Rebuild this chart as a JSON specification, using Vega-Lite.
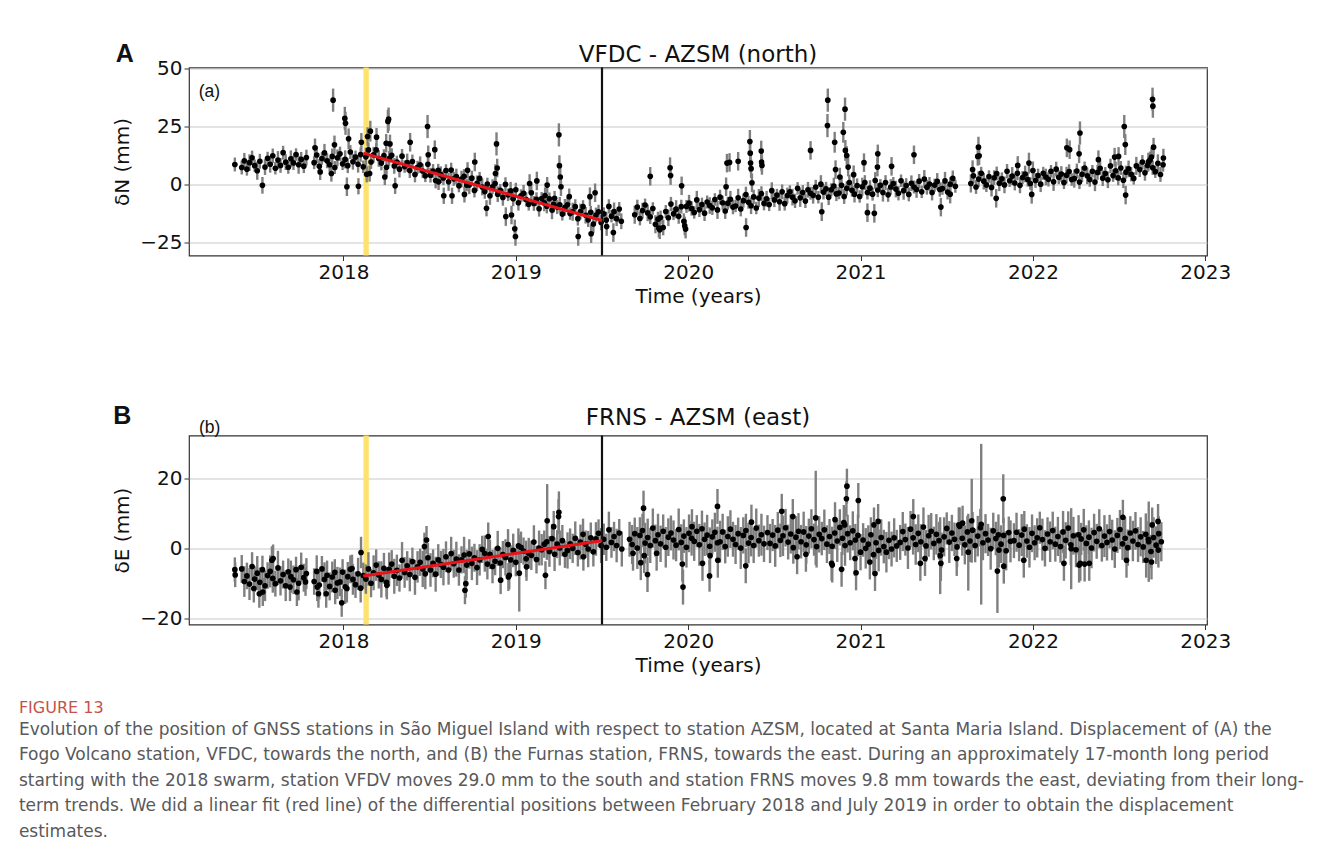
{
"$schema":"https://vega.github.io/schema/vega-lite/v6.json",
"background":"white",
"padding":{"left":18,"top":40.5,"right":0,"bottom":0},
"datasets":{
"a":[
{"t":2017.37,"v":8.5,"e":3},{"t":2017.41,"v":7.2,"e":3},{"t":2017.425,"v":10.1,"e":3.4},{"t":2017.44,"v":6.5,"e":2.8},{"t":2017.455,"v":9.3,"e":3.6},{"t":2017.47,"v":11.4,"e":3.1},{"t":2017.485,"v":8,"e":2.7},{"t":2017.5,"v":5.8,"e":3.9},{"t":2017.515,"v":9.9,"e":3.2},{"t":2017.53,"v":-0.5,"e":3.6},{"t":2017.545,"v":7.4,"e":3.4},{"t":2017.56,"v":11.2,"e":2.8},{"t":2017.575,"v":8.6,"e":3.6},{"t":2017.59,"v":12.3,"e":3.1},{"t":2017.605,"v":6.9,"e":2.7},{"t":2017.62,"v":10.4,"e":3.9},{"t":2017.635,"v":8.1,"e":3.2},{"t":2017.65,"v":13.6,"e":3},{"t":2017.665,"v":9.5,"e":3.4},{"t":2017.68,"v":7.3,"e":2.8},{"t":2017.695,"v":11,"e":3.6},{"t":2017.71,"v":9.2,"e":3.1},{"t":2017.725,"v":12.8,"e":2.7},{"t":2017.74,"v":8.4,"e":3.9},{"t":2017.755,"v":10.7,"e":3.2},{"t":2017.77,"v":7.8,"e":3},{"t":2017.785,"v":11.5,"e":3.4},
{"t":2017.83,"v":9.3,"e":2.8},{"t":2017.845,"v":12.6,"e":3.6},{"t":2017.86,"v":7.7,"e":3.1},{"t":2017.875,"v":11.1,"e":2.7},{"t":2017.89,"v":13.5,"e":3.9},{"t":2017.905,"v":10.1,"e":3.2},{"t":2017.92,"v":8.4,"e":3},{"t":2017.935,"v":12,"e":3.4},{"t":2017.95,"v":7.2,"e":2.8},{"t":2017.965,"v":11.4,"e":3.6},{"t":2017.98,"v":13.1,"e":3.1},{"t":2017.995,"v":8.8,"e":2.7},{"t":2018.01,"v":10.7,"e":3.9},{"t":2018.025,"v":8,"e":3.2},{"t":2018.04,"v":13.9,"e":3},{"t":2018.055,"v":9.7,"e":3.4},{"t":2018.07,"v":11.7,"e":2.8},{"t":2018.085,"v":8.6,"e":3.6},{"t":2018.1,"v":12.8,"e":3.1},{"t":2018.115,"v":7.5,"e":2.7},
{"t":2017.835,"v":15.7,"e":4},{"t":2017.865,"v":5.3,"e":3.5},{"t":2017.93,"v":4.6,"e":3.5},{"t":2017.94,"v":36.3,"e":5},{"t":2017.948,"v":17,"e":4},{"t":2018.008,"v":28.4,"e":5},{"t":2018.012,"v":26.3,"e":5},{"t":2018.02,"v":-1.1,"e":4},{"t":2018.03,"v":19.6,"e":4.5},{"t":2018.087,"v":-0.9,"e":3.5},{"t":2018.104,"v":18.1,"e":4},
{"t":2018.13,"v":11.8,"e":3.9},{"t":2018.145,"v":14.8,"e":3.2},{"t":2018.16,"v":9.6,"e":3},{"t":2018.175,"v":12.7,"e":3.4},{"t":2018.19,"v":14.8,"e":2.8},{"t":2018.205,"v":11.1,"e":3.6},{"t":2018.22,"v":9.1,"e":3.1},{"t":2018.235,"v":12.4,"e":2.7},{"t":2018.25,"v":7.3,"e":3.9},{"t":2018.265,"v":11.1,"e":3.2},{"t":2018.28,"v":12.5,"e":3},{"t":2018.295,"v":7.9,"e":3.4},{"t":2018.31,"v":9.5,"e":2.8},{"t":2018.325,"v":6.5,"e":3.6},{"t":2018.34,"v":12.1,"e":3.1},{"t":2018.355,"v":7.6,"e":2.7},{"t":2018.37,"v":9.3,"e":3.9},{"t":2018.385,"v":5.9,"e":3.2},{"t":2018.4,"v":9.8,"e":3},{"t":2018.415,"v":4.2,"e":3.4},{"t":2018.43,"v":7.3,"e":2.8},{"t":2018.445,"v":8.4,"e":3.6},{"t":2018.46,"v":5.7,"e":3.1},{"t":2018.475,"v":3.6,"e":2.7},{"t":2018.49,"v":8.6,"e":3.9},{"t":2018.505,"v":3.9,"e":3.2},{"t":2018.52,"v":5.7,"e":3},{"t":2018.535,"v":1.6,"e":3.4},{"t":2018.55,"v":6,"e":2.8},{"t":2018.565,"v":4.1,"e":3.6},{"t":2018.58,"v":2.7,"e":3.1},{"t":2018.595,"v":5.9,"e":2.7},{"t":2018.61,"v":1,"e":3.9},{"t":2018.625,"v":6.1,"e":3.2},{"t":2018.64,"v":2.3,"e":3},{"t":2018.655,"v":3.3,"e":3.4},{"t":2018.67,"v":-0.7,"e":2.8},{"t":2018.685,"v":2.2,"e":3.6},{"t":2018.7,"v":3.4,"e":3.1},{"t":2018.715,"v":-0.4,"e":2.7},{"t":2018.73,"v":-0.4,"e":3.9},{"t":2018.745,"v":2.6,"e":3.2},{"t":2018.76,"v":-2.7,"e":3},{"t":2018.775,"v":0.4,"e":3.4},{"t":2018.79,"v":2.5,"e":2.8},{"t":2018.805,"v":-1.2,"e":3.6},{"t":2018.82,"v":-3.2,"e":3.1},{"t":2018.835,"v":0.1,"e":2.7},{"t":2018.85,"v":-5,"e":3.9},{"t":2018.865,"v":-1.1,"e":3.2},{"t":2018.88,"v":0.3,"e":3},{"t":2018.895,"v":-4.3,"e":3.4},{"t":2018.91,"v":-2.7,"e":2.8},{"t":2018.925,"v":-5.7,"e":3.6},{"t":2018.94,"v":-0.1,"e":3.1},{"t":2018.955,"v":-4.6,"e":2.7},{"t":2018.97,"v":-2.9,"e":3.9},{"t":2018.985,"v":-6.3,"e":3.2},{"t":2019,"v":-2.4,"e":3},{"t":2019.015,"v":-8,"e":3.4},{"t":2019.03,"v":-5,"e":2.8},{"t":2019.045,"v":-3.9,"e":3.6},{"t":2019.06,"v":-6.6,"e":3.1},{"t":2019.075,"v":-8.7,"e":2.7},{"t":2019.09,"v":-3.7,"e":3.9},{"t":2019.105,"v":-8.3,"e":3.2},{"t":2019.12,"v":-6.5,"e":3},{"t":2019.135,"v":-10.6,"e":3.4},{"t":2019.15,"v":-6.2,"e":2.8},{"t":2019.165,"v":-8.1,"e":3.6},{"t":2019.18,"v":-9.5,"e":3.1},{"t":2019.195,"v":-6.3,"e":2.7},{"t":2019.21,"v":-11.2,"e":3.9},{"t":2019.225,"v":-6.1,"e":3.2},{"t":2019.24,"v":-9.9,"e":3},{"t":2019.255,"v":-8.9,"e":3.4},{"t":2019.27,"v":-12.9,"e":2.8},{"t":2019.285,"v":-10,"e":3.6},{"t":2019.3,"v":-8.9,"e":3.1},{"t":2019.315,"v":-12.7,"e":2.7},{"t":2019.33,"v":-11.9,"e":3.9},{"t":2019.345,"v":-9.7,"e":3.2},{"t":2019.36,"v":-14.9,"e":3},{"t":2019.375,"v":-11.8,"e":3.4},{"t":2019.39,"v":-9.7,"e":2.8},{"t":2019.405,"v":-13.4,"e":3.6},{"t":2019.42,"v":-15.4,"e":3.1},{"t":2019.435,"v":-12.1,"e":2.7},{"t":2019.45,"v":-17.2,"e":3.9},{"t":2019.465,"v":-13.3,"e":3.2},{"t":2019.48,"v":-11.9,"e":3},{"t":2019.495,"v":-16.5,"e":3.4},{"t":2019.51,"v":-12.8,"e":2.8},{"t":2019.525,"v":-15.5,"e":3.6},{"t":2019.54,"v":-9.6,"e":3.1},{"t":2019.555,"v":-13.8,"e":2.7},{"t":2019.57,"v":-11.8,"e":3.9},{"t":2019.585,"v":-14.9,"e":3.2},{"t":2019.6,"v":-10.7,"e":3},{"t":2019.612,"v":-16,"e":3.4},
{"t":2018.135,"v":4.3,"e":3.5},{"t":2018.14,"v":20.6,"e":4},{"t":2018.152,"v":4.6,"e":3.5},{"t":2018.156,"v":22.9,"e":4.5},{"t":2018.192,"v":20.3,"e":4},{"t":2018.24,"v":3.1,"e":3.5},{"t":2018.248,"v":17.7,"e":4},{"t":2018.258,"v":27.1,"e":5},{"t":2018.262,"v":28.1,"e":5},{"t":2018.27,"v":17.4,"e":4},{"t":2018.3,"v":-0.7,"e":3.5},{"t":2018.387,"v":18.1,"e":4},{"t":2018.488,"v":24.9,"e":5},{"t":2018.492,"v":12.7,"e":4},{"t":2018.53,"v":14.9,"e":4},{"t":2018.552,"v":1,"e":3.5},{"t":2018.582,"v":-5,"e":3.5},{"t":2018.63,"v":-5,"e":3.5},{"t":2018.702,"v":-4.4,"e":3.5},{"t":2018.72,"v":6,"e":3.5},{"t":2018.762,"v":9.6,"e":4},{"t":2018.83,"v":-10.4,"e":3.5},{"t":2018.882,"v":4.6,"e":4},{"t":2018.888,"v":17.4,"e":5},{"t":2018.892,"v":7,"e":4},{"t":2018.942,"v":-14,"e":4},{"t":2018.975,"v":-13.3,"e":4},{"t":2018.994,"v":-19.3,"e":4},{"t":2018.998,"v":-22.6,"e":4},{"t":2019.08,"v":0.3,"e":4},{"t":2019.122,"v":1.4,"e":4},{"t":2019.17,"v":-4.9,"e":3.5},{"t":2019.182,"v":-0.4,"e":3.5},{"t":2019.22,"v":-8.7,"e":3.5},{"t":2019.25,"v":21.3,"e":5},{"t":2019.253,"v":8,"e":4.5},{"t":2019.258,"v":3.1,"e":4},{"t":2019.262,"v":-1.1,"e":4},{"t":2019.31,"v":-5.4,"e":3.5},{"t":2019.362,"v":-22.6,"e":4},{"t":2019.43,"v":-5.4,"e":4},{"t":2019.437,"v":-21.4,"e":4},{"t":2019.46,"v":-3.7,"e":4},{"t":2019.527,"v":-18.3,"e":4},{"t":2019.566,"v":-20.9,"e":4},
{"t":2019.69,"v":-13.2,"e":3.9},{"t":2019.705,"v":-9.9,"e":3.2},{"t":2019.72,"v":-14.8,"e":3},{"t":2019.735,"v":-11.4,"e":3.4},{"t":2019.75,"v":-9,"e":2.8},{"t":2019.765,"v":-12.4,"e":3.6},{"t":2019.78,"v":-14.1,"e":3.1},{"t":2019.795,"v":-10.5,"e":2.7},{"t":2019.81,"v":-17.3,"e":3.9},{"t":2019.825,"v":-15.1,"e":3.2},{"t":2019.84,"v":-14.4,"e":3},{"t":2019.855,"v":-18.7,"e":3.4},{"t":2019.87,"v":-11.8,"e":2.8},{"t":2019.885,"v":-14.5,"e":3.6},{"t":2019.9,"v":-8.6,"e":3.1},{"t":2019.915,"v":-12.8,"e":2.7},{"t":2019.93,"v":-10.8,"e":3.9},{"t":2019.945,"v":-13.9,"e":3.2},{"t":2019.96,"v":-9.7,"e":3},{"t":2019.975,"v":-16,"e":3.4},{"t":2019.99,"v":-9.6,"e":2.8},{"t":2020.005,"v":-8.2,"e":3.6},{"t":2020.02,"v":-10.5,"e":3.1},{"t":2020.035,"v":-12.2,"e":2.7},{"t":2020.05,"v":-6.8,"e":3.9},{"t":2020.065,"v":-11,"e":3.2},{"t":2020.08,"v":-8.8,"e":3},{"t":2020.095,"v":-12.5,"e":3.4},{"t":2020.11,"v":-7.7,"e":2.8},{"t":2020.125,"v":-9.2,"e":3.6},{"t":2020.14,"v":-10.2,"e":3.1},{"t":2020.155,"v":-6.6,"e":2.7},{"t":2020.17,"v":-11.1,"e":3.9},{"t":2020.185,"v":-5.6,"e":3.2},{"t":2020.2,"v":-8,"e":3},{"t":2020.215,"v":-11.6,"e":3.4},{"t":2020.23,"v":-8.2,"e":2.8},{"t":2020.245,"v":-6.5,"e":3.6},{"t":2020.26,"v":-9.9,"e":3.1},{"t":2020.275,"v":-9.4,"e":2.7},{"t":2020.29,"v":-5.9,"e":3.9},{"t":2020.305,"v":-10.7,"e":3.2},{"t":2020.32,"v":-7.1,"e":3},{"t":2020.335,"v":-4.5,"e":3.4},{"t":2020.35,"v":-7.8,"e":2.8},{"t":2020.365,"v":-9.3,"e":3.6},{"t":2020.38,"v":-5.5,"e":3.1},{"t":2020.395,"v":-10.3,"e":2.7},{"t":2020.41,"v":-6,"e":3.9},{"t":2020.425,"v":-4.1,"e":3.2},{"t":2020.44,"v":-8.3,"e":3},{"t":2020.455,"v":-6.3,"e":3.4},{"t":2020.47,"v":-8.8,"e":2.8},{"t":2020.485,"v":-2.8,"e":3.6},{"t":2020.5,"v":-6.8,"e":3.1},{"t":2020.515,"v":-4.7,"e":2.7},{"t":2020.53,"v":-7.6,"e":3.9},{"t":2020.545,"v":-3.3,"e":3.2},{"t":2020.56,"v":-8.4,"e":3},{"t":2020.575,"v":-4.9,"e":3.4},{"t":2020.59,"v":-3.3,"e":2.8},{"t":2020.605,"v":-5.6,"e":3.6},{"t":2020.62,"v":-7.2,"e":3.1},{"t":2020.635,"v":-1.8,"e":2.7},{"t":2020.65,"v":-5.9,"e":3.9},{"t":2020.665,"v":-3.6,"e":3.2},{"t":2020.68,"v":-7.3,"e":3},{"t":2020.695,"v":-2.4,"e":3.4},{"t":2020.71,"v":-3.9,"e":2.8},{"t":2020.725,"v":-4.8,"e":3.6},{"t":2020.74,"v":-1.2,"e":3.1},{"t":2020.755,"v":-5.6,"e":2.7},{"t":2020.77,"v":0,"e":3.9},{"t":2020.785,"v":-3.4,"e":3.2},{"t":2020.8,"v":-2,"e":3},{"t":2020.815,"v":-5.6,"e":3.4},{"t":2020.83,"v":-2.4,"e":2.8},{"t":2020.845,"v":-0.8,"e":3.6},{"t":2020.86,"v":-4.2,"e":3.1},{"t":2020.875,"v":-3.8,"e":2.7},{"t":2020.89,"v":-0.5,"e":3.9},{"t":2020.905,"v":-5.3,"e":3.2},{"t":2020.92,"v":-1.8,"e":3},{"t":2020.935,"v":0.7,"e":3.4},{"t":2020.95,"v":-2.6,"e":2.8},{"t":2020.965,"v":-4.3,"e":3.6},{"t":2020.98,"v":-0.6,"e":3.1},{"t":2020.995,"v":-5.3,"e":2.7},{"t":2021.01,"v":-1.1,"e":3.9},{"t":2021.025,"v":0.7,"e":3.2},{"t":2021.04,"v":-3.6,"e":3},{"t":2021.055,"v":-1.7,"e":3.4},{"t":2021.07,"v":-4.3,"e":2.8},{"t":2021.085,"v":1.6,"e":3.6},{"t":2021.1,"v":-2.5,"e":3.1},{"t":2021.115,"v":-0.5,"e":2.7},{"t":2021.13,"v":-3.6,"e":3.9},{"t":2021.145,"v":0.7,"e":3.2},{"t":2021.16,"v":-4.6,"e":3},{"t":2021.175,"v":-1.2,"e":3.4},{"t":2021.19,"v":0.3,"e":2.8},{"t":2021.205,"v":-2.1,"e":3.6},{"t":2021.22,"v":-3.9,"e":3.1},{"t":2021.235,"v":1.5,"e":2.7},{"t":2021.25,"v":-2.8,"e":3.9},{"t":2021.265,"v":-0.6,"e":3.2},{"t":2021.28,"v":-4.4,"e":3},{"t":2021.295,"v":0.4,"e":3.4},{"t":2021.31,"v":-1.2,"e":2.8},{"t":2021.325,"v":-2.3,"e":3.6},{"t":2021.34,"v":1.3,"e":3.1},{"t":2021.355,"v":-3.3,"e":2.7},{"t":2021.37,"v":2.2,"e":3.9},{"t":2021.385,"v":-1.3,"e":3.2},{"t":2021.4,"v":0.1,"e":3},{"t":2021.415,"v":-3.6,"e":3.4},{"t":2021.43,"v":-0.4,"e":2.8},{"t":2021.445,"v":1.2,"e":3.6},{"t":2021.46,"v":-2.3,"e":3.1},{"t":2021.475,"v":-1.9,"e":2.7},{"t":2021.49,"v":1.4,"e":3.9},{"t":2021.505,"v":-3.4,"e":3.2},{"t":2021.52,"v":0,"e":3},{"t":2021.535,"v":2.5,"e":3.4},{"t":2021.55,"v":-0.9,"e":2.8},
{"t":2019.78,"v":3.4,"e":4},{"t":2019.83,"v":-19,"e":4},{"t":2019.835,"v":-19.7,"e":4},{"t":2019.895,"v":7.1,"e":4.5},{"t":2019.898,"v":3.7,"e":4},{"t":2019.962,"v":-0.7,"e":4},{"t":2019.98,"v":-18,"e":4},{"t":2019.985,"v":-19.4,"e":4},{"t":2020.225,"v":9.1,"e":4},{"t":2020.24,"v":9.4,"e":4},{"t":2020.22,"v":-1.1,"e":4},{"t":2020.29,"v":9.9,"e":4},{"t":2020.336,"v":-18.7,"e":4},{"t":2020.358,"v":18.4,"e":5},{"t":2020.36,"v":13.4,"e":4.5},{"t":2020.362,"v":9.1,"e":4},{"t":2020.365,"v":6.7,"e":4},{"t":2020.37,"v":0.6,"e":4},{"t":2020.424,"v":14.3,"e":4.5},{"t":2020.426,"v":9.6,"e":4},{"t":2020.428,"v":8.1,"e":4},{"t":2020.71,"v":14.6,"e":4},{"t":2020.81,"v":36.3,"e":5},{"t":2020.808,"v":25.3,"e":5},{"t":2020.775,"v":-11.9,"e":4},{"t":2020.85,"v":18.1,"e":4.5},{"t":2020.855,"v":6.3,"e":4},{"t":2020.88,"v":3.1,"e":4},{"t":2020.9,"v":22.4,"e":4.5},{"t":2020.91,"v":32.4,"e":5},{"t":2020.912,"v":14.6,"e":4.5},{"t":2020.92,"v":12.4,"e":4},{"t":2020.928,"v":7.4,"e":4},{"t":2020.96,"v":4.1,"e":4},{"t":2021.02,"v":9.3,"e":4},{"t":2021.04,"v":-12.3,"e":4},{"t":2021.08,"v":-12.6,"e":4},{"t":2021.1,"v":13.1,"e":4},{"t":2021.098,"v":7.4,"e":4},{"t":2021.18,"v":7.7,"e":4},{"t":2021.31,"v":12.7,"e":4},{"t":2021.466,"v":-9.9,"e":4},{"t":2021.52,"v":-4.3,"e":4},
{"t":2021.64,"v":0.3,"e":3.9},{"t":2021.655,"v":3.6,"e":3.2},{"t":2021.67,"v":-1.2,"e":3},{"t":2021.685,"v":2.2,"e":3.4},{"t":2021.7,"v":4.7,"e":2.8},{"t":2021.715,"v":1.3,"e":3.6},{"t":2021.73,"v":-0.3,"e":3.1},{"t":2021.745,"v":3.3,"e":2.7},{"t":2021.76,"v":-1.4,"e":3.9},{"t":2021.775,"v":2.8,"e":3.2},{"t":2021.79,"v":4.6,"e":3},{"t":2021.805,"v":0.4,"e":3.4},{"t":2021.82,"v":2.3,"e":2.8},{"t":2021.835,"v":-0.3,"e":3.6},{"t":2021.85,"v":5.6,"e":3.1},{"t":2021.865,"v":1.5,"e":2.7},{"t":2021.88,"v":3.5,"e":3.9},{"t":2021.895,"v":0.5,"e":3.2},{"t":2021.91,"v":4.7,"e":3},{"t":2021.925,"v":-0.5,"e":3.4},{"t":2021.94,"v":2.9,"e":2.8},{"t":2021.955,"v":4.4,"e":3.6},{"t":2021.97,"v":2,"e":3.1},{"t":2021.985,"v":0.3,"e":2.7},{"t":2022,"v":5.9,"e":3.9},{"t":2022.015,"v":1.6,"e":3.2},{"t":2022.03,"v":3.7,"e":3},{"t":2022.045,"v":0,"e":3.4},{"t":2022.06,"v":4.7,"e":2.8},{"t":2022.075,"v":3.1,"e":3.6},{"t":2022.09,"v":2.1,"e":3.1},{"t":2022.105,"v":5.6,"e":2.7},{"t":2022.12,"v":1,"e":3.9},{"t":2022.135,"v":6.5,"e":3.2},{"t":2022.15,"v":3,"e":3},{"t":2022.165,"v":4.4,"e":3.4},{"t":2022.18,"v":0.7,"e":2.8},{"t":2022.195,"v":3.9,"e":3.6},{"t":2022.21,"v":5.5,"e":3.1},{"t":2022.225,"v":2,"e":2.7},{"t":2022.24,"v":2.4,"e":3.9},{"t":2022.255,"v":5.7,"e":3.2},{"t":2022.27,"v":0.9,"e":3},{"t":2022.285,"v":4.3,"e":3.4},{"t":2022.3,"v":7,"e":2.8},{"t":2022.315,"v":3.6,"e":3.6},{"t":2022.33,"v":2,"e":3.1},{"t":2022.345,"v":5.6,"e":2.7},{"t":2022.36,"v":0.9,"e":3.9},{"t":2022.375,"v":5.1,"e":3.2},{"t":2022.39,"v":6.9,"e":3},{"t":2022.405,"v":2.6,"e":3.4},{"t":2022.42,"v":4.6,"e":2.8},{"t":2022.435,"v":1.9,"e":3.6},{"t":2022.45,"v":7.9,"e":3.1},{"t":2022.465,"v":3.7,"e":2.7},{"t":2022.48,"v":5.8,"e":3.9},{"t":2022.495,"v":2.7,"e":3.2},{"t":2022.51,"v":7,"e":3},{"t":2022.525,"v":1.7,"e":3.4},{"t":2022.54,"v":5.2,"e":2.8},{"t":2022.555,"v":6.6,"e":3.6},{"t":2022.57,"v":4.3,"e":3.1},{"t":2022.585,"v":2.5,"e":2.7},{"t":2022.6,"v":7.9,"e":3.9},
{"t":2021.65,"v":6.3,"e":4},{"t":2021.68,"v":12,"e":4},{"t":2021.684,"v":16,"e":4.5},{"t":2021.688,"v":12.3,"e":4},{"t":2021.787,"v":-6.1,"e":4},{"t":2021.912,"v":8.1,"e":4},{"t":2021.977,"v":9.1,"e":4.5},{"t":2021.993,"v":-4.4,"e":4},{"t":2022.197,"v":15.7,"e":4},{"t":2022.213,"v":14.9,"e":4},{"t":2022.268,"v":13.1,"e":4},{"t":2022.273,"v":22.1,"e":5},{"t":2022.474,"v":11.7,"e":4},{"t":2022.497,"v":12,"e":4},{"t":2022.53,"v":24.9,"e":5},{"t":2022.536,"v":17.1,"e":4.5},{"t":2022.538,"v":-4.7,"e":4},{"t":2022.38,"v":10.6,"e":4},
{"t":2022.62,"v":6.3,"e":3.2},{"t":2022.635,"v":9.6,"e":3},{"t":2022.65,"v":4.9,"e":3.4},{"t":2022.665,"v":8.1,"e":2.8},{"t":2022.68,"v":10.5,"e":3.6},{"t":2022.695,"v":7.1,"e":3.1},{"t":2022.71,"v":5.4,"e":2.7},{"t":2022.725,"v":9,"e":3.9},{"t":2022.74,"v":4.2,"e":3.2},{"t":2022.755,"v":8.4,"e":3},
{"t":2022.694,"v":36.7,"e":5},{"t":2022.696,"v":33.7,"e":5},{"t":2022.7,"v":16,"e":4},{"t":2022.688,"v":11.7,"e":4},{"t":2022.757,"v":11.3,"e":4},{"t":2022.67,"v":9.6,"e":4}
],
"b":[
{"t":2017.37,"v":-6,"e":3.5},{"t":2017.372,"v":-7.5,"e":3.5},{"t":2017.41,"v":-5.8,"e":4},{"t":2017.425,"v":-9.4,"e":4.4},{"t":2017.44,"v":-7.8,"e":3.8},{"t":2017.455,"v":-10.1,"e":4.6},{"t":2017.47,"v":-5.1,"e":4.1},{"t":2017.485,"v":-8.7,"e":3.7},{"t":2017.5,"v":-7,"e":4.9},{"t":2017.515,"v":-9.6,"e":4.2},{"t":2017.53,"v":-6,"e":4},{"t":2017.545,"v":-10.6,"e":4.4},{"t":2017.56,"v":-7.7,"e":3.8},{"t":2017.575,"v":-6.5,"e":4.6},{"t":2017.59,"v":-8.5,"e":4.1},{"t":2017.605,"v":-10,"e":3.7},{"t":2017.62,"v":-5.5,"e":4.9},{"t":2017.635,"v":-9.2,"e":4.2},{"t":2017.65,"v":-7.4,"e":4},{"t":2017.665,"v":-10.6,"e":4.4},{"t":2017.68,"v":-6.6,"e":3.8},{"t":2017.695,"v":-8,"e":4.6},{"t":2017.71,"v":-8.9,"e":4.1},{"t":2017.725,"v":-6,"e":3.7},{"t":2017.74,"v":-9.9,"e":4.9},{"t":2017.755,"v":-5.3,"e":4.2},{"t":2017.77,"v":-8.3,"e":4},{"t":2017.785,"v":-7.1,"e":4.4},
{"t":2017.512,"v":-12.9,"e":4},{"t":2017.532,"v":-12.4,"e":4},{"t":2017.48,"v":-11.4,"e":4},{"t":2017.585,"v":-3.3,"e":4},{"t":2017.592,"v":-2.8,"e":4},{"t":2017.73,"v":-12.4,"e":4},{"t":2017.78,"v":-9.5,"e":4},{"t":2017.69,"v":-11,"e":4},
{"t":2017.83,"v":-9.4,"e":3.8},{"t":2017.845,"v":-6.5,"e":4.6},{"t":2017.86,"v":-10.4,"e":4.1},{"t":2017.875,"v":-5.8,"e":3.7},{"t":2017.89,"v":-8.8,"e":4.9},{"t":2017.905,"v":-7.6,"e":4.2},{"t":2017.92,"v":-10.8,"e":4},{"t":2017.935,"v":-8.1,"e":4.4},{"t":2017.95,"v":-6.8,"e":3.8},{"t":2017.965,"v":-9.8,"e":4.6},{"t":2017.98,"v":-9.5,"e":4.1},{"t":2017.995,"v":-6.7,"e":3.7},{"t":2018.01,"v":-10.9,"e":4.9},{"t":2018.025,"v":-8,"e":4.2},{"t":2018.04,"v":-5.9,"e":4},{"t":2018.055,"v":-8.8,"e":4.4},{"t":2018.07,"v":-10.3,"e":3.8},{"t":2018.085,"v":-7.2,"e":4.6},{"t":2018.1,"v":-11.3,"e":4.1},{"t":2018.115,"v":-7.7,"e":3.7},
{"t":2017.855,"v":-12.9,"e":4},{"t":2017.848,"v":-11,"e":4},{"t":2017.9,"v":-12.9,"e":4},{"t":2017.952,"v":-11.9,"e":4},{"t":2017.99,"v":-15.5,"e":4},{"t":2018.02,"v":-11.4,"e":4},{"t":2018.102,"v":-1.1,"e":4.5},{"t":2018.05,"v":-5.7,"e":4},
{"t":2018.13,"v":-8.7,"e":4.2},{"t":2018.145,"v":-5.8,"e":4.8},{"t":2018.16,"v":-9.9,"e":4},{"t":2018.175,"v":-6.9,"e":5},{"t":2018.19,"v":-4.7,"e":4.5},{"t":2018.205,"v":-7.5,"e":3.9},{"t":2018.22,"v":-8.8,"e":5.2},{"t":2018.235,"v":-5.6,"e":4.4},{"t":2018.25,"v":-9.6,"e":4.2},{"t":2018.265,"v":-5.9,"e":4.8},{"t":2018.28,"v":-4.4,"e":4},{"t":2018.295,"v":-7.9,"e":5},{"t":2018.31,"v":-6.2,"e":4.5},{"t":2018.325,"v":-8.4,"e":3.9},{"t":2018.34,"v":-3.3,"e":5.2},{"t":2018.355,"v":-6.8,"e":4.4},{"t":2018.37,"v":-4.9,"e":4.2},{"t":2018.385,"v":-7.4,"e":4.8},{"t":2018.4,"v":-3.7,"e":4},{"t":2018.415,"v":-8.2,"e":5},{"t":2018.43,"v":-5.2,"e":4.5},{"t":2018.445,"v":-3.9,"e":3.9},{"t":2018.46,"v":-5.8,"e":5.2},{"t":2018.475,"v":-7.2,"e":4.4},{"t":2018.49,"v":-2.6,"e":4.2},{"t":2018.505,"v":-6.1,"e":4.8},{"t":2018.52,"v":-4.2,"e":4},{"t":2018.535,"v":-7.3,"e":5},{"t":2018.55,"v":-3.2,"e":4.5},{"t":2018.565,"v":-4.5,"e":3.9},{"t":2018.58,"v":-5.3,"e":5.2},{"t":2018.595,"v":-2.3,"e":4.4},{"t":2018.61,"v":-6.1,"e":4.2},{"t":2018.625,"v":-1.4,"e":4.8},{"t":2018.64,"v":-4.3,"e":4},{"t":2018.655,"v":-3,"e":5},{"t":2018.67,"v":-6.1,"e":4.5},{"t":2018.685,"v":-3.2,"e":3.9},{"t":2018.7,"v":-1.8,"e":5.2},{"t":2018.715,"v":-4.7,"e":4.4},{"t":2018.73,"v":-1.5,"e":4.2},{"t":2018.745,"v":-4.2,"e":4.8},{"t":2018.76,"v":-2.6,"e":4},{"t":2018.775,"v":-5.4,"e":5},{"t":2018.79,"v":-3.2,"e":4.5},{"t":2018.805,"v":-0.2,"e":3.9},{"t":2018.82,"v":-1.4,"e":5.2},{"t":2018.835,"v":-4.4,"e":4.4},{"t":2018.85,"v":-1.6,"e":4.2},{"t":2018.865,"v":-5.1,"e":4.8},{"t":2018.88,"v":-3.6,"e":4},{"t":2018.895,"v":0.1,"e":5},{"t":2018.91,"v":-4.1,"e":4.5},{"t":2018.925,"v":-1.7,"e":3.9},{"t":2018.94,"v":-2.5,"e":5.2},{"t":2018.955,"v":1.2,"e":4.4},{"t":2018.97,"v":-3.2,"e":4.2},{"t":2018.985,"v":-0.5,"e":4.8},{"t":2019,"v":-3.9,"e":4},{"t":2019.015,"v":0.8,"e":5},{"t":2019.03,"v":0.4,"e":4.5},{"t":2019.045,"v":-0.7,"e":3.9},{"t":2019.06,"v":-2.9,"e":5.2},{"t":2019.075,"v":-1.3,"e":4.4},{"t":2019.09,"v":-1.9,"e":4.2},{"t":2019.105,"v":1.9,"e":4.8},{"t":2019.12,"v":-3.1,"e":4},{"t":2019.135,"v":0.2,"e":5},{"t":2019.15,"v":-0.3,"e":4.5},{"t":2019.165,"v":1.3,"e":3.9},{"t":2019.18,"v":2,"e":5.2},{"t":2019.195,"v":-0.8,"e":4.4},{"t":2019.21,"v":2.9,"e":4.2},{"t":2019.225,"v":-1.6,"e":4.8},{"t":2019.24,"v":1.3,"e":4},{"t":2019.255,"v":0.2,"e":5},{"t":2019.27,"v":2.3,"e":4.5},{"t":2019.285,"v":-1.6,"e":3.9},{"t":2019.3,"v":-0.5,"e":5.2},{"t":2019.315,"v":1.4,"e":4.4},{"t":2019.33,"v":0.1,"e":4.2},{"t":2019.345,"v":3,"e":4.8},{"t":2019.36,"v":-1.1,"e":4},{"t":2019.375,"v":1.9,"e":5},{"t":2019.39,"v":4.1,"e":4.5},{"t":2019.405,"v":1.3,"e":3.9},{"t":2019.42,"v":-0.1,"e":5.2},{"t":2019.435,"v":3.1,"e":4.4},{"t":2019.45,"v":-0.9,"e":4.2},{"t":2019.465,"v":2.8,"e":4.8},{"t":2019.48,"v":4.4,"e":4},{"t":2019.495,"v":0.9,"e":5},{"t":2019.51,"v":2.7,"e":4.5},{"t":2019.525,"v":0.4,"e":3.9},{"t":2019.54,"v":5.4,"e":5.2},{"t":2019.555,"v":1.8,"e":4.4},{"t":2019.57,"v":3.5,"e":4.2},{"t":2019.585,"v":0.9,"e":4.8},{"t":2019.6,"v":4.5,"e":4},{"t":2019.615,"v":-0.1,"e":5},
{"t":2018.705,"v":-11.9,"e":4},{"t":2018.71,"v":-10,"e":4},{"t":2018.84,"v":3.5,"e":4},{"t":2018.912,"v":-9,"e":4},{"t":2018.957,"v":-8.1,"e":4},{"t":2018.962,"v":-7.6,"e":4},{"t":2018.482,"v":2.5,"e":4},{"t":2018.47,"v":0.6,"e":4},{"t":2018.252,"v":-10.5,"e":4},{"t":2019.062,"v":-5.2,"e":4},{"t":2019.22,"v":6.3,"e":4.5},{"t":2019.25,"v":10.4,"e":6},{"t":2019.248,"v":9.2,"e":5},{"t":2019.172,"v":-7.6,"e":4},{"t":2019.392,"v":-2.3,"e":4},{"t":2019.182,"v":8,"e":10.5},{"t":2019.02,"v":-7,"e":11},
{"t":2019.66,"v":2.7,"e":5},{"t":2019.675,"v":1.2,"e":5.6},{"t":2019.69,"v":4.3,"e":4.6},{"t":2019.705,"v":0.2,"e":6},{"t":2019.72,"v":3.8,"e":5.2},{"t":2019.735,"v":5.2,"e":4.8},{"t":2019.75,"v":1.6,"e":5.8},{"t":2019.765,"v":3.2,"e":5.4},{"t":2019.78,"v":0.9,"e":5},{"t":2019.795,"v":5.9,"e":5.6},{"t":2019.81,"v":2.3,"e":4.6},{"t":2019.825,"v":4,"e":6},{"t":2019.84,"v":1.4,"e":5.2},{"t":2019.855,"v":5,"e":4.8},{"t":2019.87,"v":0.4,"e":5.8},{"t":2019.885,"v":3.3,"e":5.4},{"t":2019.9,"v":4.5,"e":5},{"t":2019.915,"v":2.5,"e":5.6},{"t":2019.93,"v":1,"e":4.6},{"t":2019.945,"v":5.5,"e":6},{"t":2019.96,"v":1.8,"e":5.2},{"t":2019.975,"v":3.6,"e":4.8},{"t":2019.99,"v":0.4,"e":5.8},{"t":2020.005,"v":4.4,"e":5.4},{"t":2020.02,"v":3,"e":5},{"t":2020.035,"v":2.1,"e":5.6},{"t":2020.05,"v":5,"e":4.6},{"t":2020.065,"v":1.1,"e":6},{"t":2020.08,"v":5.7,"e":5.2},{"t":2020.095,"v":2.7,"e":4.8},{"t":2020.11,"v":3.9,"e":5.8},{"t":2020.125,"v":0.7,"e":5.4},{"t":2020.14,"v":3.4,"e":5},{"t":2020.155,"v":4.7,"e":5.6},{"t":2020.17,"v":1.7,"e":4.6},{"t":2020.185,"v":2,"e":6},{"t":2020.2,"v":4.8,"e":5.2},{"t":2020.215,"v":0.6,"e":4.8},{"t":2020.23,"v":3.5,"e":5.8},{"t":2020.245,"v":5.6,"e":5.4},{"t":2020.26,"v":2.7,"e":5},{"t":2020.275,"v":1.2,"e":5.6},{"t":2020.29,"v":4.3,"e":4.6},{"t":2020.305,"v":0.2,"e":6},{"t":2020.32,"v":3.8,"e":5.2},{"t":2020.335,"v":5.2,"e":4.8},{"t":2020.35,"v":1.6,"e":5.8},{"t":2020.365,"v":3.2,"e":5.4},{"t":2020.38,"v":0.9,"e":5},{"t":2020.395,"v":5.9,"e":5.6},{"t":2020.41,"v":2.3,"e":4.6},{"t":2020.425,"v":4,"e":6},{"t":2020.44,"v":1.4,"e":5.2},
{"t":2019.741,"v":11.6,"e":5},{"t":2019.764,"v":-7.4,"e":5},{"t":2019.725,"v":-4,"e":5},{"t":2019.745,"v":-2,"e":5},{"t":2019.68,"v":-1.3,"e":5},{"t":2019.97,"v":-11,"e":5},{"t":2019.966,"v":-4.4,"e":5},{"t":2020.022,"v":6.3,"e":5},{"t":2020.124,"v":-7.8,"e":4.5},{"t":2020.127,"v":-2,"e":5},{"t":2020.17,"v":12.1,"e":5},{"t":2020.172,"v":-3.3,"e":5},{"t":2020.334,"v":-4.9,"e":5},{"t":2020.367,"v":7.6,"e":5},{"t":2020.083,"v":-4.2,"e":5},{"t":2019.817,"v":-1.3,"e":5},
{"t":2020.46,"v":4.6,"e":5},{"t":2020.475,"v":1.5,"e":5.6},{"t":2020.49,"v":3.9,"e":4.6},{"t":2020.505,"v":0.8,"e":6},{"t":2020.52,"v":5.3,"e":5.2},{"t":2020.535,"v":2.4,"e":4.8},{"t":2020.55,"v":3.7,"e":5.8},{"t":2020.565,"v":6,"e":5.4},{"t":2020.58,"v":1.9,"e":5},{"t":2020.595,"v":4.2,"e":5.6},{"t":2020.61,"v":0.3,"e":4.6},{"t":2020.625,"v":3.3,"e":6},{"t":2020.64,"v":5,"e":5.2},{"t":2020.655,"v":2,"e":4.8},{"t":2020.67,"v":4.8,"e":5.8},{"t":2020.685,"v":1.1,"e":5.4},{"t":2020.7,"v":3.6,"e":5},{"t":2020.715,"v":5.7,"e":5.6},{"t":2020.73,"v":2.6,"e":4.6},{"t":2020.745,"v":0.6,"e":6},{"t":2020.76,"v":4.1,"e":5.2},{"t":2020.775,"v":2.9,"e":4.8},{"t":2020.79,"v":5.4,"e":5.8},{"t":2020.805,"v":1.3,"e":5.4},{"t":2020.82,"v":3.5,"e":5},{"t":2020.835,"v":0.7,"e":5.6},{"t":2020.85,"v":4.5,"e":4.6},{"t":2020.865,"v":2.2,"e":6},{"t":2020.88,"v":6.1,"e":5.2},{"t":2020.895,"v":3,"e":4.8},{"t":2020.91,"v":0.9,"e":5.8},{"t":2020.925,"v":4.3,"e":5.4},{"t":2020.94,"v":1.7,"e":5},{"t":2020.955,"v":5.1,"e":5.6},{"t":2020.97,"v":2.5,"e":4.6},{"t":2020.985,"v":3.8,"e":6},{"t":2021,"v":-1,"e":5.2},{"t":2021.015,"v":2.5,"e":4.8},{"t":2021.03,"v":0.1,"e":5.8},{"t":2021.045,"v":1.3,"e":5.4},{"t":2021.06,"v":4,"e":5},{"t":2021.075,"v":-1.7,"e":5.6},{"t":2021.09,"v":1.7,"e":4.6},{"t":2021.105,"v":-0.5,"e":6},{"t":2021.12,"v":3.2,"e":5.2},{"t":2021.135,"v":0.6,"e":4.8},{"t":2021.15,"v":-1,"e":5.8},{"t":2021.165,"v":2.4,"e":5.4},{"t":2021.18,"v":-0.1,"e":5},{"t":2021.195,"v":3.1,"e":5.6},{"t":2021.21,"v":0.8,"e":4.6},
{"t":2020.543,"v":10.7,"e":5},{"t":2020.607,"v":9.2,"e":5},{"t":2020.74,"v":8.8,"e":13.5},{"t":2020.832,"v":-4.2,"e":5},{"t":2020.836,"v":-4.7,"e":5},{"t":2020.89,"v":-5.9,"e":5},{"t":2020.852,"v":8.3,"e":5},{"t":2020.903,"v":7.5,"e":5},{"t":2020.908,"v":6.8,"e":5},{"t":2020.921,"v":17.9,"e":5},{"t":2020.918,"v":14.3,"e":5},{"t":2020.987,"v":13.8,"e":5},{"t":2020.974,"v":-6.9,"e":5},{"t":2020.968,"v":-2.8,"e":5},{"t":2021.084,"v":-7.1,"e":5},{"t":2021.054,"v":-3.8,"e":5},{"t":2021.078,"v":6.8,"e":5},{"t":2021.102,"v":7.8,"e":5},{"t":2020.632,"v":-2.3,"e":5},{"t":2020.683,"v":-1.6,"e":5},
{"t":2021.23,"v":1.8,"e":5},{"t":2021.245,"v":4.9,"e":5.6},{"t":2021.26,"v":2.6,"e":4.6},{"t":2021.275,"v":0.2,"e":6},{"t":2021.29,"v":5.6,"e":5.2},{"t":2021.305,"v":3.1,"e":4.8},{"t":2021.32,"v":1.2,"e":5.8},{"t":2021.335,"v":4.4,"e":5.4},{"t":2021.35,"v":2,"e":5},{"t":2021.365,"v":6.2,"e":5.6},{"t":2021.38,"v":0.8,"e":4.6},{"t":2021.395,"v":3.7,"e":6},{"t":2021.41,"v":5,"e":5.2},{"t":2021.425,"v":1.5,"e":4.8},{"t":2021.44,"v":4.1,"e":5.8},{"t":2021.455,"v":2.3,"e":5.4},{"t":2021.47,"v":-0.4,"e":5},{"t":2021.485,"v":3.4,"e":5.6},{"t":2021.5,"v":5.8,"e":4.6},{"t":2021.515,"v":1.9,"e":6},{"t":2021.53,"v":4.5,"e":5.2},{"t":2021.545,"v":2.7,"e":4.8},{"t":2021.56,"v":0.5,"e":5.8},{"t":2021.575,"v":6.4,"e":5.4},{"t":2021.59,"v":3,"e":5},{"t":2021.605,"v":1.1,"e":5.6},{"t":2021.62,"v":4.8,"e":4.6},{"t":2021.635,"v":2.2,"e":6},{"t":2021.65,"v":5.3,"e":5.2},{"t":2021.665,"v":0.9,"e":4.8},{"t":2021.68,"v":3.6,"e":5.8},{"t":2021.695,"v":6,"e":5.4},{"t":2021.71,"v":1.7,"e":5},{"t":2021.725,"v":4.3,"e":5.6},{"t":2021.74,"v":2.5,"e":4.6},{"t":2021.755,"v":0,"e":6},{"t":2021.77,"v":5.1,"e":5.2},{"t":2021.785,"v":2.9,"e":4.8},{"t":2021.8,"v":4,"e":5.8},{"t":2021.815,"v":1.3,"e":5.4},{"t":2021.83,"v":3.8,"e":5},{"t":2021.845,"v":-0.6,"e":5.6},{"t":2021.86,"v":4.6,"e":4.6},{"t":2021.87,"v":2.1,"e":6},
{"t":2021.306,"v":9.2,"e":5},{"t":2021.347,"v":-4.2,"e":5},{"t":2021.374,"v":-2.8,"e":5},{"t":2021.466,"v":-4.2,"e":5},{"t":2021.462,"v":-2,"e":11},{"t":2021.558,"v":-2.8,"e":5},{"t":2021.57,"v":6.8,"e":5},{"t":2021.592,"v":7.3,"e":5},{"t":2021.7,"v":7,"e":23},{"t":2021.794,"v":-6.4,"e":12},{"t":2021.803,"v":-0.4,"e":5},{"t":2021.828,"v":14.3,"e":7},{"t":2021.831,"v":-5,"e":5},{"t":2021.625,"v":-1,"e":11},{"t":2021.645,"v":8,"e":12},
{"t":2021.89,"v":2.3,"e":5},{"t":2021.905,"v":4.7,"e":5.6},{"t":2021.92,"v":1,"e":4.6},{"t":2021.935,"v":3.9,"e":6},{"t":2021.95,"v":5.6,"e":5.2},{"t":2021.965,"v":2.2,"e":4.8},{"t":2021.98,"v":0.4,"e":5.8},{"t":2021.995,"v":4.4,"e":5.4},{"t":2022.01,"v":1.7,"e":5},{"t":2022.025,"v":3.1,"e":5.6},{"t":2022.04,"v":6,"e":4.6},{"t":2022.055,"v":2.6,"e":6},{"t":2022.07,"v":0.1,"e":5.2},{"t":2022.085,"v":4.2,"e":4.8},{"t":2022.1,"v":2,"e":5.8},{"t":2022.115,"v":5.2,"e":5.4},{"t":2022.13,"v":1.3,"e":5},{"t":2022.145,"v":3.5,"e":5.6},{"t":2022.16,"v":0.6,"e":4.6},{"t":2022.175,"v":4.8,"e":6},{"t":2022.19,"v":2.4,"e":5.2},{"t":2022.205,"v":5.9,"e":4.8},{"t":2022.22,"v":1.1,"e":5.8},{"t":2022.235,"v":3.7,"e":5.4},{"t":2022.25,"v":-0.3,"e":5},{"t":2022.265,"v":4,"e":5.6},{"t":2022.28,"v":2.8,"e":4.6},{"t":2022.295,"v":5.4,"e":6},{"t":2022.31,"v":1.5,"e":5.2},{"t":2022.325,"v":3.3,"e":4.8},{"t":2022.34,"v":0.2,"e":5.8},{"t":2022.355,"v":4.6,"e":5.4},{"t":2022.37,"v":2.1,"e":5},{"t":2022.385,"v":5.7,"e":5.6},{"t":2022.4,"v":0.9,"e":4.6},{"t":2022.415,"v":3.6,"e":6},{"t":2022.43,"v":1.8,"e":5.2},{"t":2022.445,"v":4.9,"e":4.8},{"t":2022.46,"v":2.5,"e":5.8},{"t":2022.475,"v":-0.1,"e":5.4},{"t":2022.49,"v":3.8,"e":5},{"t":2022.505,"v":5.5,"e":5.6},{"t":2022.52,"v":1.4,"e":4.6},{"t":2022.535,"v":3,"e":6},{"t":2022.55,"v":0.3,"e":5.2},{"t":2022.565,"v":4.5,"e":4.8},{"t":2022.58,"v":2.2,"e":5.8},{"t":2022.595,"v":5.1,"e":5.4},{"t":2022.61,"v":1.2,"e":5},{"t":2022.625,"v":3.4,"e":5.6},{"t":2022.64,"v":0.5,"e":4.6},{"t":2022.655,"v":4.1,"e":6},{"t":2022.67,"v":2.7,"e":5.2},{"t":2022.685,"v":-0.8,"e":4.8},{"t":2022.7,"v":3.2,"e":5.8},{"t":2022.715,"v":1,"e":5.4},{"t":2022.73,"v":4.3,"e":5},{"t":2022.745,"v":2,"e":5.6},
{"t":2021.947,"v":-3.3,"e":5},{"t":2022.18,"v":-4.2,"e":5},{"t":2022.268,"v":-4.7,"e":5},{"t":2022.275,"v":-4.2,"e":5},{"t":2022.3,"v":-4.4,"e":5},{"t":2022.327,"v":-4.2,"e":5},{"t":2022.522,"v":9,"e":5},{"t":2022.543,"v":-3.3,"e":5},{"t":2022.657,"v":-3.3,"e":5},{"t":2022.688,"v":-3.8,"e":5},{"t":2022.726,"v":7.8,"e":5},{"t":2022.728,"v":-0.4,"e":5},{"t":2022.692,"v":6.8,"e":5},{"t":2022.222,"v":0,"e":11.6},{"t":2022.672,"v":2,"e":11.5}
],
"fa":[{"t":2018.115,"v":13.4},{"t":2019.5,"v":-15.7}],
"fb":[{"t":2018.115,"v":-7.8},{"t":2019.5,"v":2.3}]
},
"title":{"text":"FIGURE 13","subtitle":["Evolution of the position of GNSS stations in São Miguel Island with respect to station AZSM, located at Santa Maria Island. Displacement of (A) the","Fogo Volcano station, VFDC, towards the north, and (B) the Furnas station, FRNS, towards the east. During an approximately 17-month long period","starting with the 2018 swarm, station VFDV moves 29.0 mm to the south and station FRNS moves 9.8 mm towards the east, deviating from their long-","term trends. We did a linear fit (red line) of the differential positions between February 2018 and July 2019 in order to obtain the displacement","estimates."],"orient":"bottom","anchor":"start","frame":"bounds","dx":-93.3,"offset":24,"font":"DejaVu Sans","fontSize":16,"fontWeight":"normal","color":"#c4524a","subtitleFont":"DejaVu Sans","subtitleFontSize":17,"subtitleColor":"#58595b","subtitleLineHeight":25.5,"subtitlePadding":6},
"spacing":180,
"bounds":"flush",
"vconcat":[
{"width":1018,"height":188,
"title":{"text":"VFDC - AZSM (north)","fontSize":23,"font":"DejaVu Sans","fontWeight":"normal","color":"#111","baseline":"alphabetic","offset":-43.5},
"layer":[
{"data":{"values":[{}]},"mark":{"type":"rect","color":"#fde26c"},"encoding":{"x":{"datum":2018.116,"type":"quantitative"},"x2":{"datum":2018.147}}},
{"data":{"name":"a"},"mark":{"type":"errorbar","color":"#7f7f7f","thickness":2.4,"ticks":false},"encoding":{"x":{"field":"t","type":"quantitative","scale":{"domain":[2017.104,2023.01],"nice":false,"zero":false},"axis":{"title":"Time (years)","values":[2018,2019,2020,2021,2022,2023],"format":"d"}},"y":{"field":"v","type":"quantitative","scale":{"domain":[-30.8,50.4],"nice":false,"zero":false},"axis":{"title":"δN (mm)","values":[-25,0,25,50],"format":"d"}},"yError":{"field":"e"}}},
{"data":{"name":"a"},"mark":{"type":"circle","color":"black","size":32,"opacity":1},"encoding":{"x":{"field":"t","type":"quantitative"},"y":{"field":"v","type":"quantitative"}}},
{"data":{"values":[{}]},"mark":{"type":"rule","color":"#111","strokeWidth":2.2},"encoding":{"x":{"datum":2019.5,"type":"quantitative"}}},
{"data":{"name":"fa"},"mark":{"type":"line","color":"#e8141c","strokeWidth":3},"encoding":{"x":{"field":"t","type":"quantitative"},"y":{"field":"v","type":"quantitative"}}},
{"data":{"values":[{}]},"mark":{"type":"text","text":"A","font":"Liberation Sans","fontWeight":"bold","fontSize":25,"align":"left","baseline":"alphabetic","color":"#111"},"encoding":{"x":{"datum":2016.679,"type":"quantitative"},"y":{"datum":52.8,"type":"quantitative"}}},
{"data":{"values":[{}]},"mark":{"type":"text","text":"(a)","font":"Liberation Sans","fontSize":17.5,"align":"left","baseline":"alphabetic","color":"#111"},"encoding":{"x":{"datum":2017.16,"type":"quantitative"},"y":{"datum":37.5,"type":"quantitative"}}}
]},
{"width":1018,"height":189,
"title":{"text":"FRNS - AZSM (east)","fontSize":23,"font":"DejaVu Sans","fontWeight":"normal","color":"#111","baseline":"alphabetic","offset":-43.5},
"layer":[
{"data":{"values":[{}]},"mark":{"type":"rect","color":"#fde26c"},"encoding":{"x":{"datum":2018.116,"type":"quantitative"},"x2":{"datum":2018.147}}},
{"data":{"name":"b"},"mark":{"type":"errorbar","color":"#7f7f7f","thickness":2.4,"ticks":false},"encoding":{"x":{"field":"t","type":"quantitative","scale":{"domain":[2017.104,2023.01],"nice":false,"zero":false},"axis":{"title":"Time (years)","values":[2018,2019,2020,2021,2022,2023],"format":"d"}},"y":{"field":"v","type":"quantitative","scale":{"domain":[-21.7,32.4],"nice":false,"zero":false},"axis":{"title":"δE (mm)","values":[-20,0,20],"format":"d"}},"yError":{"field":"e"}}},
{"data":{"name":"b"},"mark":{"type":"circle","color":"black","size":32,"opacity":1},"encoding":{"x":{"field":"t","type":"quantitative"},"y":{"field":"v","type":"quantitative"}}},
{"data":{"values":[{}]},"mark":{"type":"rule","color":"#111","strokeWidth":2.2},"encoding":{"x":{"datum":2019.5,"type":"quantitative"}}},
{"data":{"name":"fb"},"mark":{"type":"line","color":"#e8141c","strokeWidth":3},"encoding":{"x":{"field":"t","type":"quantitative"},"y":{"field":"v","type":"quantitative"}}},
{"data":{"values":[{}]},"mark":{"type":"text","text":"B","font":"Liberation Sans","fontWeight":"bold","fontSize":25,"align":"left","baseline":"alphabetic","color":"#111"},"encoding":{"x":{"datum":2016.665,"type":"quantitative"},"y":{"datum":35.66,"type":"quantitative"}}},
{"data":{"values":[{}]},"mark":{"type":"text","text":"(b)","font":"Liberation Sans","fontSize":17.5,"align":"left","baseline":"alphabetic","color":"#111"},"encoding":{"x":{"datum":2017.162,"type":"quantitative"},"y":{"datum":33.1,"type":"quantitative"}}}
]}
],
"config":{
"view":{"stroke":"#333","strokeWidth":1.2},
"axis":{"labelFont":"DejaVu Sans","labelFontSize":20,"labelColor":"#111","titleFont":"DejaVu Sans","titleFontSize":20,"titleFontWeight":"normal","titleColor":"#111","gridColor":"#c8c8c8","gridWidth":1,"gridOpacity":1,"tickColor":"#333","tickSize":5,"tickWidth":1,"domain":false,"labelFlush":false,"labelOverlap":false},
"axisX":{"labelPadding":1.5,"titlePadding":4},
"axisY":{"labelPadding":2,"titlePadding":7}
}
}
